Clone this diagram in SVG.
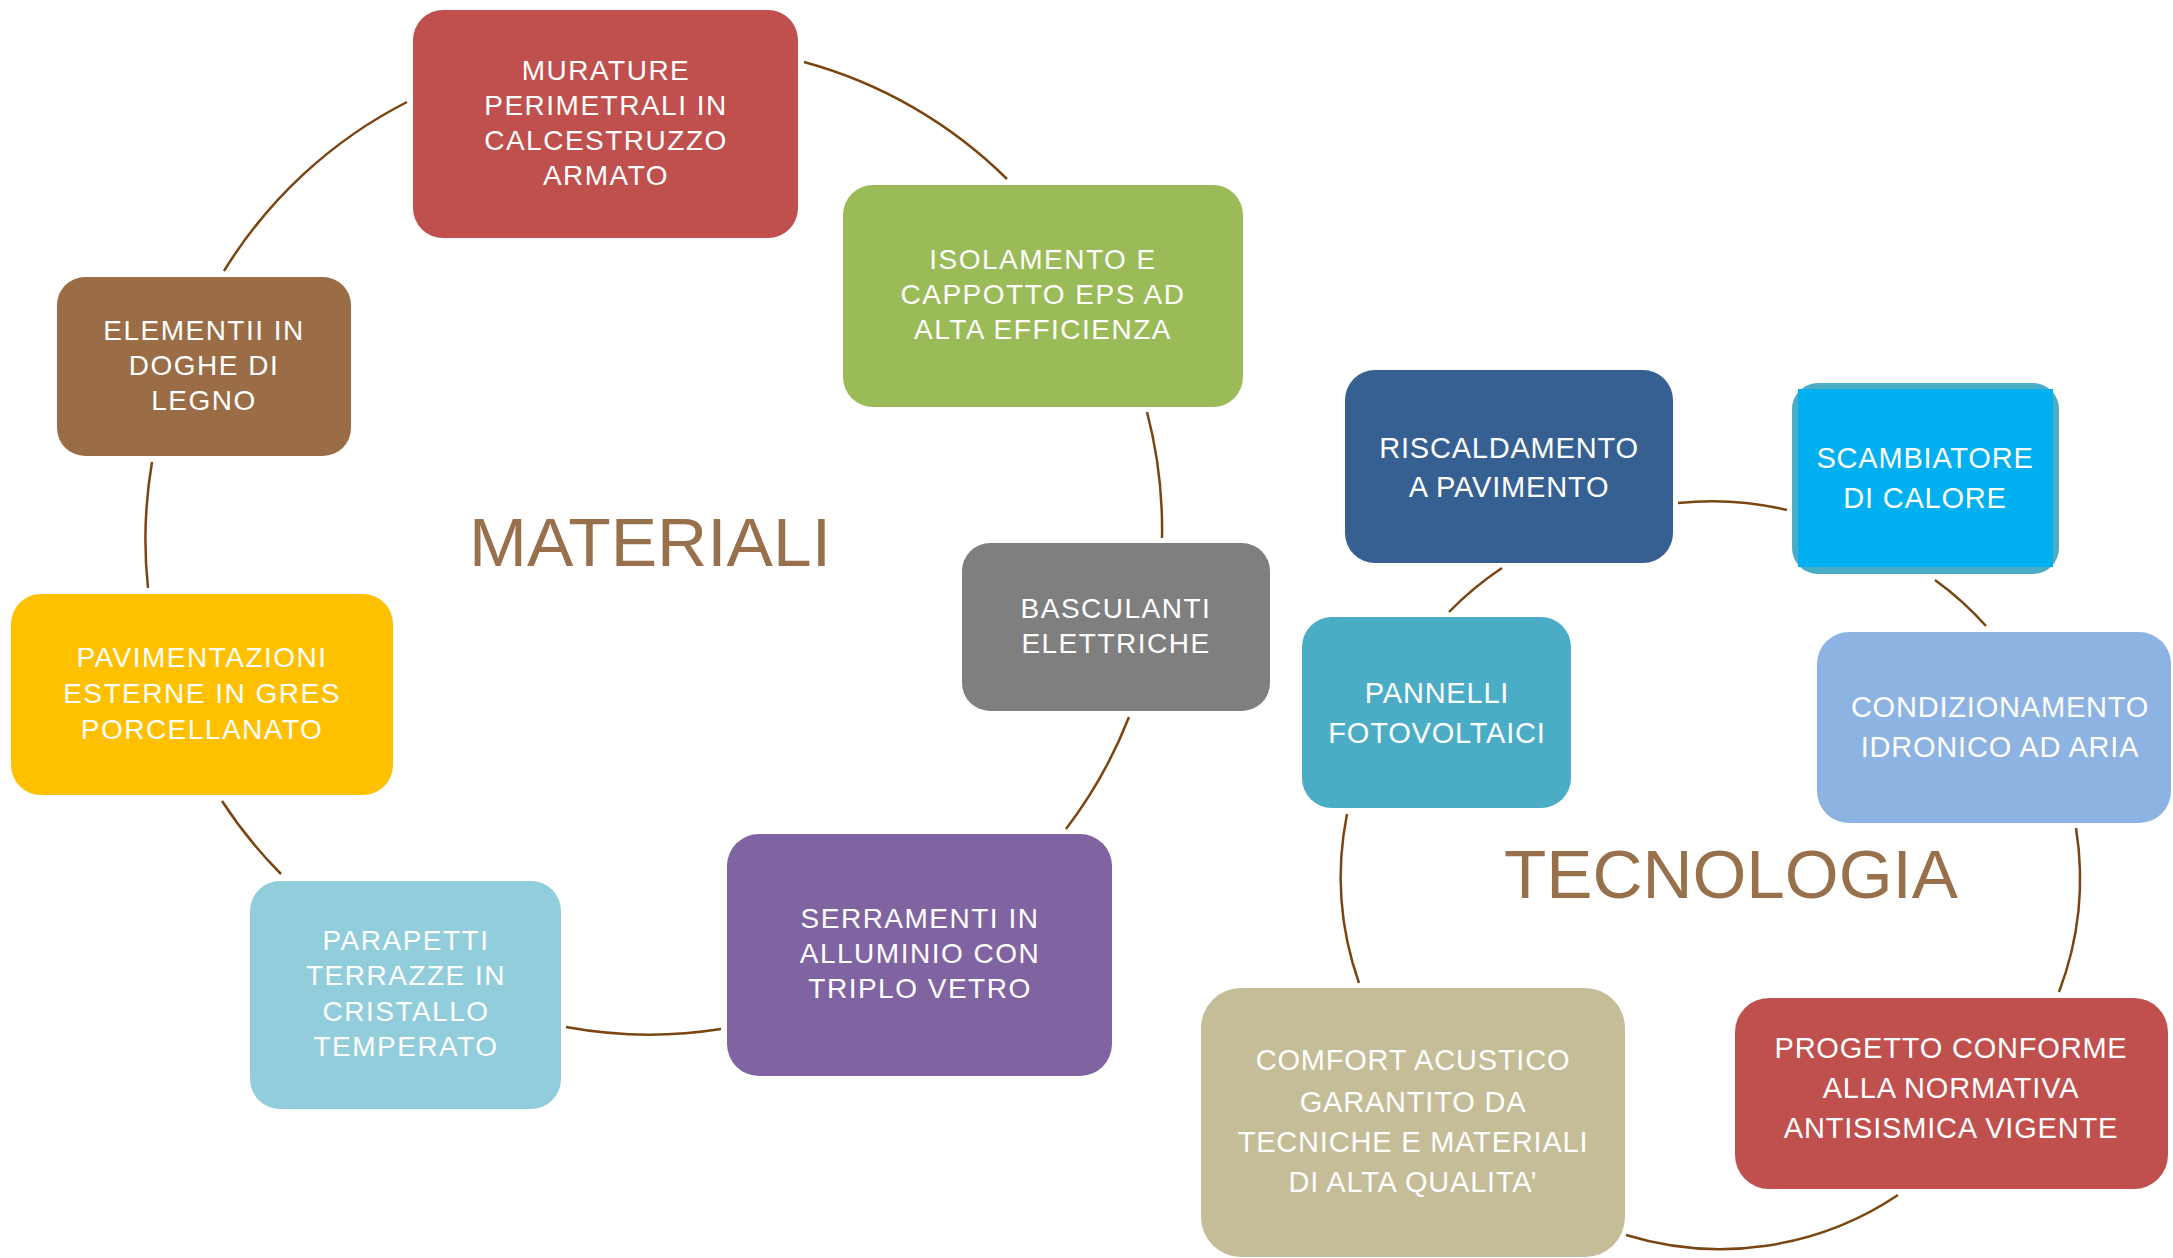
<svg xmlns="http://www.w3.org/2000/svg" width="2173" height="1258" viewBox="0 0 2173 1258">
<style>
.c{fill:none;stroke:#7B4512;stroke-width:2.5}
.t{font-family:"Liberation Sans",Arial,sans-serif;fill:#fff;text-anchor:middle}
.m{font-size:28px;letter-spacing:1.5px}
.k{font-size:29px;letter-spacing:0.8px}
.h{font-family:"Liberation Sans",Arial,sans-serif;fill:#98704B;font-size:68px}
</style>
<rect width="2173" height="1258" fill="#fff"/>
<g id="connectors">
<path class="c" d="M804,62 A460,460 0 0 1 1007,179"/>
<path class="c" d="M1147,412 A460,460 0 0 1 1162,538"/>
<path class="c" d="M1129,717 A460,460 0 0 1 1066,829"/>
<path class="c" d="M721,1029 A460,460 0 0 1 566,1027"/>
<path class="c" d="M281,874 A460,460 0 0 1 222,801"/>
<path class="c" d="M148,588 A460,460 0 0 1 152,462"/>
<path class="c" d="M224,271 A460,460 0 0 1 407,102"/>
<path class="c" d="M1678,503 A320,320 0 0 1 1787,510"/>
<path class="c" d="M1935,580 A320,320 0 0 1 1986,626"/>
<path class="c" d="M2076,828 A320,320 0 0 1 2059,992"/>
<path class="c" d="M1898,1195 A320,320 0 0 1 1626,1235"/>
<path class="c" d="M1359,983 A320,320 0 0 1 1347,814"/>
<path class="c" d="M1449,612 A320,320 0 0 1 1502,568"/>
</g>
<g id="title-materiali"><text class="h" x="469" y="566" textLength="362" lengthAdjust="spacingAndGlyphs">MATERIALI</text></g>
<g id="title-tecnologia"><text class="h" x="1504" y="898" textLength="454" lengthAdjust="spacingAndGlyphs">TECNOLOGIA</text></g>
<g id="n-murature"><rect x="413" y="10" width="385" height="228" rx="30" fill="#C0504D"/>
<text class="t m" x="606" y="80">MURATURE</text><text class="t m" x="606" y="115">PERIMETRALI IN</text><text class="t m" x="606" y="150">CALCESTRUZZO</text><text class="t m" x="606" y="185">ARMATO</text></g>
<g id="n-isolamento"><rect x="843" y="185" width="400" height="222" rx="30" fill="#9BBB59"/>
<text class="t m" x="1043" y="269">ISOLAMENTO E</text><text class="t m" x="1043" y="304">CAPPOTTO EPS AD</text><text class="t m" x="1043" y="339">ALTA EFFICIENZA</text></g>
<g id="n-basculanti"><rect x="962" y="543" width="308" height="168" rx="28" fill="#7F7F7F"/>
<text class="t m" x="1116" y="618">BASCULANTI</text><text class="t m" x="1116" y="653">ELETTRICHE</text></g>
<g id="n-serramenti"><rect x="727" y="834" width="385" height="242" rx="32" fill="#8064A2"/>
<text class="t m" x="920" y="928">SERRAMENTI IN</text><text class="t m" x="920" y="963">ALLUMINIO CON</text><text class="t m" x="920" y="998">TRIPLO VETRO</text></g>
<g id="n-parapetti"><rect x="250" y="881" width="311" height="228" rx="30" fill="#92CDDC"/>
<text class="t m" x="406" y="950">PARAPETTI</text><text class="t m" x="406" y="985">TERRAZZE IN</text><text class="t m" x="406" y="1021">CRISTALLO</text><text class="t m" x="406" y="1056">TEMPERATO</text></g>
<g id="n-pavimentazioni"><rect x="11" y="594" width="382" height="201" rx="30" fill="#FFC000"/>
<text class="t m" x="202" y="667">PAVIMENTAZIONI</text><text class="t m" x="202" y="703">ESTERNE IN GRES</text><text class="t m" x="202" y="739">PORCELLANATO</text></g>
<g id="n-elementi"><rect x="57" y="277" width="294" height="179" rx="28" fill="#9A6D46"/>
<text class="t m" x="204" y="340">ELEMENTII IN</text><text class="t m" x="204" y="375">DOGHE DI</text><text class="t m" x="204" y="410">LEGNO</text></g>
<g id="n-riscaldamento"><rect x="1345" y="370" width="328" height="193" rx="30" fill="#366092"/>
<text class="t k" x="1509" y="458">RISCALDAMENTO</text><text class="t k" x="1509" y="497">A PAVIMENTO</text></g>
<g id="n-scambiatore"><rect x="1792" y="383" width="267" height="191" rx="26" fill="#4BACC6"/><rect x="1798" y="389" width="255" height="178" fill="#00B0F0"/>
<text class="t k" x="1925" y="468">SCAMBIATORE</text><text class="t k" x="1925" y="508">DI CALORE</text></g>
<g id="n-condizionamento"><rect x="1817" y="632" width="354" height="191" rx="32" fill="#8DB3E2"/>
<text class="t k" x="2000" y="717">CONDIZIONAMENTO</text><text class="t k" x="2000" y="757">IDRONICO AD ARIA</text></g>
<g id="n-progetto"><rect x="1735" y="998" width="433" height="191" rx="34" fill="#C0504D"/>
<text class="t k" x="1951" y="1058">PROGETTO CONFORME</text><text class="t k" x="1951" y="1098">ALLA NORMATIVA</text><text class="t k" x="1951" y="1138">ANTISISMICA VIGENTE</text></g>
<g id="n-comfort"><rect x="1201" y="988" width="424" height="269" rx="40" fill="#C4BD97"/>
<text class="t k" x="1413" y="1070">COMFORT ACUSTICO</text><text class="t k" x="1413" y="1112">GARANTITO DA</text><text class="t k" x="1413" y="1152">TECNICHE E MATERIALI</text><text class="t k" x="1413" y="1192">DI ALTA QUALITA’</text></g>
<g id="n-pannelli"><rect x="1302" y="617" width="269" height="191" rx="30" fill="#4BACC6"/>
<text class="t k" x="1437" y="703">PANNELLI</text><text class="t k" x="1437" y="743">FOTOVOLTAICI</text></g>
</svg>
